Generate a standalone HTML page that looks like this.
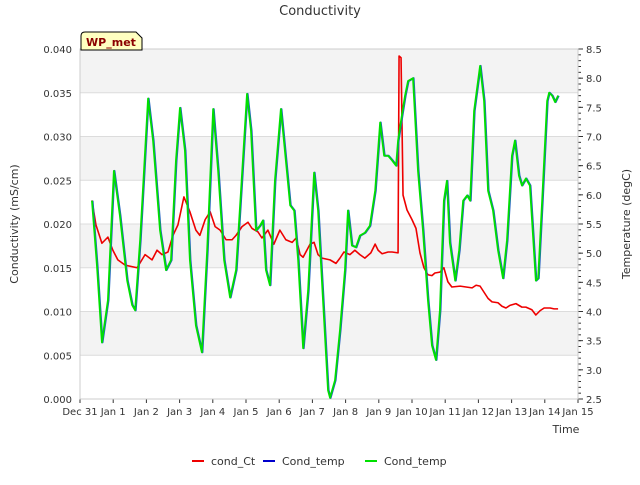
<!DOCTYPE html>
<html><head><meta charset="utf-8"><style>
body{margin:0;background:#fff;font-family:"Liberation Sans","DejaVu Sans",sans-serif}
svg text{font-family:"DejaVu Sans","Liberation Sans",sans-serif}
</style></head><body>
<svg id="chart" width="640" height="480" xmlns="http://www.w3.org/2000/svg">
<g id="bands"></g><g id="axes"></g><g id="series"></g>
<text x="320" y="15" text-anchor="middle" font-size="13" fill="#333">Conductivity</text>
<text x="566" y="433" text-anchor="middle" font-size="11" fill="#333">Time</text>
<text transform="translate(18,224) rotate(-90)" text-anchor="middle" font-size="11" fill="#333">Conductivity (mS/cm)</text>
<text transform="translate(630,224) rotate(-90)" text-anchor="middle" font-size="11" fill="#333">Temperature (degC)</text>
<g>
<path d="M81,50 L81,36 Q81,32 85,32 L136,32 L142,38 L142,50 Z" fill="#ffffc0" stroke="#000" stroke-width="1"/>
<text x="111" y="46" text-anchor="middle" font-size="11" font-weight="bold" fill="#8b0000">WP_met</text>
</g>
<g font-size="11" fill="#333">
<line x1="192" y1="461" x2="204" y2="461" stroke="#e00" stroke-width="2"/><text x="211" y="465">cond_Ct</text>
<line x1="263" y1="461" x2="275" y2="461" stroke="#0000cc" stroke-width="2"/><text x="282" y="465">Cond_temp</text>
<line x1="365" y1="461" x2="377" y2="461" stroke="#00e000" stroke-width="2"/><text x="384" y="465">Cond_temp</text>
</g>
</svg>
<script>
const xTickLabels=["Dec 31","Jan 1","Jan 2","Jan 3","Jan 4","Jan 5","Jan 6","Jan 7","Jan 8","Jan 9","Jan 10","Jan 11","Jan 12","Jan 13","Jan 14","Jan 15"];
const leftTicks=[0,0.005,0.010,0.015,0.020,0.025,0.030,0.035,0.040];
const rightTicks=[2.5,3.0,3.5,4.0,4.5,5.0,5.5,6.0,6.5,7.0,7.5,8.0,8.5];
const condDays=[0.36,0.48,0.66,0.84,0.99,1.14,1.36,1.72,1.96,2.17,2.32,2.47,2.65,2.80,2.95,3.13,3.31,3.49,3.61,3.77,3.92,4.07,4.22,4.40,4.58,4.70,4.88,5.06,5.18,5.36,5.48,5.66,5.84,6.02,6.20,6.39,6.51,6.63,6.72,6.93,7.05,7.17,7.29,7.53,7.71,7.83,7.95,8.13,8.28,8.43,8.58,8.76,8.89,8.98,9.10,9.28,9.40,9.58,9.61,9.67,9.73,9.85,10.00,10.12,10.24,10.36,10.48,10.60,10.69,10.84,10.96,11.08,11.20,11.45,11.63,11.81,11.93,12.05,12.17,12.29,12.41,12.59,12.71,12.83,12.95,13.13,13.31,13.43,13.61,13.73,13.86,13.98,14.16,14.28,14.40];
const condValues=[0.0227,0.0199,0.0178,0.0185,0.0170,0.0159,0.0153,0.0150,0.0165,0.0159,0.0170,0.0165,0.0168,0.0187,0.0199,0.0231,0.0214,0.0193,0.0187,0.0205,0.0214,0.0197,0.0193,0.0182,0.0182,0.0187,0.0197,0.0202,0.0195,0.0191,0.0184,0.0193,0.0177,0.0193,0.0182,0.0179,0.0184,0.0165,0.0162,0.0177,0.0179,0.0165,0.0161,0.0159,0.0155,0.0161,0.0168,0.0165,0.0170,0.0165,0.0161,0.0167,0.0177,0.0170,0.0166,0.0168,0.0168,0.0167,0.0392,0.0390,0.0233,0.0216,0.0205,0.0195,0.0167,0.0150,0.0142,0.0141,0.0144,0.0145,0.0150,0.0134,0.0128,0.0129,0.0128,0.0127,0.0130,0.0129,0.0122,0.0115,0.0111,0.0110,0.0106,0.0104,0.0107,0.0109,0.0105,0.0105,0.0102,0.0096,0.0101,0.0104,0.0104,0.0103,0.0103];
const tempDays=[0.36,0.51,0.66,0.84,1.02,1.20,1.42,1.57,1.66,1.81,2.05,2.20,2.41,2.59,2.74,2.89,3.01,3.16,3.31,3.49,3.67,3.83,4.01,4.16,4.34,4.52,4.70,4.85,5.03,5.15,5.30,5.42,5.51,5.60,5.72,5.87,6.05,6.20,6.33,6.45,6.57,6.72,6.87,7.05,7.17,7.32,7.47,7.53,7.68,7.83,7.98,8.07,8.19,8.31,8.43,8.58,8.73,8.89,9.04,9.16,9.28,9.40,9.52,9.58,9.67,9.79,9.88,10.03,10.18,10.33,10.48,10.60,10.72,10.84,10.96,11.05,11.14,11.30,11.42,11.54,11.66,11.75,11.87,12.05,12.17,12.29,12.44,12.59,12.74,12.86,13.01,13.10,13.22,13.31,13.43,13.55,13.73,13.80,13.92,14.07,14.13,14.22,14.31,14.40];
const tempValues=[5.90,4.79,3.47,4.19,6.41,5.65,4.53,4.11,4.02,5.22,7.65,6.93,5.39,4.71,4.88,6.59,7.49,6.76,4.88,3.76,3.30,5.05,7.47,6.41,4.88,4.24,4.71,6.07,7.73,7.10,5.39,5.47,5.56,4.71,4.45,6.24,7.47,6.59,5.82,5.73,4.88,3.37,4.36,6.38,5.73,4.19,2.65,2.52,2.82,3.68,4.71,5.73,5.13,5.10,5.30,5.35,5.47,6.07,7.24,6.67,6.67,6.59,6.50,6.93,7.27,7.70,7.95,8.00,6.41,5.39,4.19,3.42,3.17,4.02,5.90,6.24,5.18,4.53,5.05,5.90,5.99,5.90,7.44,8.21,7.61,6.07,5.73,5.05,4.57,5.22,6.67,6.93,6.33,6.16,6.28,6.16,4.53,4.57,5.90,7.61,7.75,7.70,7.59,7.70];

const L=80,R=578,T=49,B=399,NS="http://www.w3.org/2000/svg";
const xs=d=>L+d*(R-L)/15;
const yl=v=>B-v/0.04*(B-T);
const yr=v=>B-(v-2.5)/6*(B-T);
function mk(tag,attrs,parent,txt){const e=document.createElementNS(NS,tag);for(const k in attrs)e.setAttribute(k,attrs[k]);if(txt!==undefined)e.textContent=txt;parent.appendChild(e);return e;}
const bands=document.getElementById('bands'),axes=document.getElementById('axes'),series=document.getElementById('series');
mk('rect',{x:L,y:T,width:R-L,height:B-T,fill:'#fff'},bands);
for(let i=0;i<8;i++){const v0=leftTicks[i],v1=leftTicks[i+1];
 if(i%2==1){const r=mk('rect',{x:L,y:yl(v1),width:R-L,height:yl(v0)-yl(v1),fill:'#f3f3f3'},bands);
 
 }}
leftTicks.forEach(v=>{const y=yl(v);
 mk('line',{x1:L,x2:R,y1:y,y2:y,stroke:'#dcdcdc','stroke-width':1},axes);
 const t=mk('text',{x:L-8,y:y+4,'text-anchor':'end','font-size':10,fill:'#333'},axes,v.toFixed(3));
 
 });
rightTicks.forEach(v=>{const y=yr(v);
 mk('line',{x1:R,x2:R+5,y1:y,y2:y,stroke:'#333'},axes);
 const t=mk('text',{x:R+8,y:y+4,'font-size':10,fill:'#333'},axes,v.toFixed(1));
 
 });
for(let v=2.5;v<=8.5001;v+=0.1){const y=yr(v);mk('line',{x1:R,x2:R+3,y1:y,y2:y,stroke:'#333'},axes);}
xTickLabels.forEach((s,i)=>{const x=xs(i);
 mk('line',{x1:x,x2:x,y1:B,y2:B+4,stroke:'#333'},axes);
 const t=mk('text',{x:x,y:B+16,'text-anchor':'middle','font-size':10,fill:'#333'},axes,s);
 
 });
mk('rect',{x:L,y:T,width:R-L,height:B-T,fill:'none',stroke:'#ccc'},axes);
function line(days,vals,yf,color,w,name,dx){const p=mk('polyline',{points:days.map((d,i)=>(xs(d)+(dx||0))+','+yf(vals[i])).join(' '),fill:'none',stroke:color,'stroke-width':w,'stroke-linejoin':'round'},series);
 
 }
line(condDays,condValues,yl,'#e00',1.6,'cond-ct-line');
line(tempDays,tempValues,yr,'#2060c0',2,'cond-temp-line-blue',0.6);
line(tempDays,tempValues,yr,'#00e000',1.8,'cond-temp-line-green');
</script>
</body></html>
